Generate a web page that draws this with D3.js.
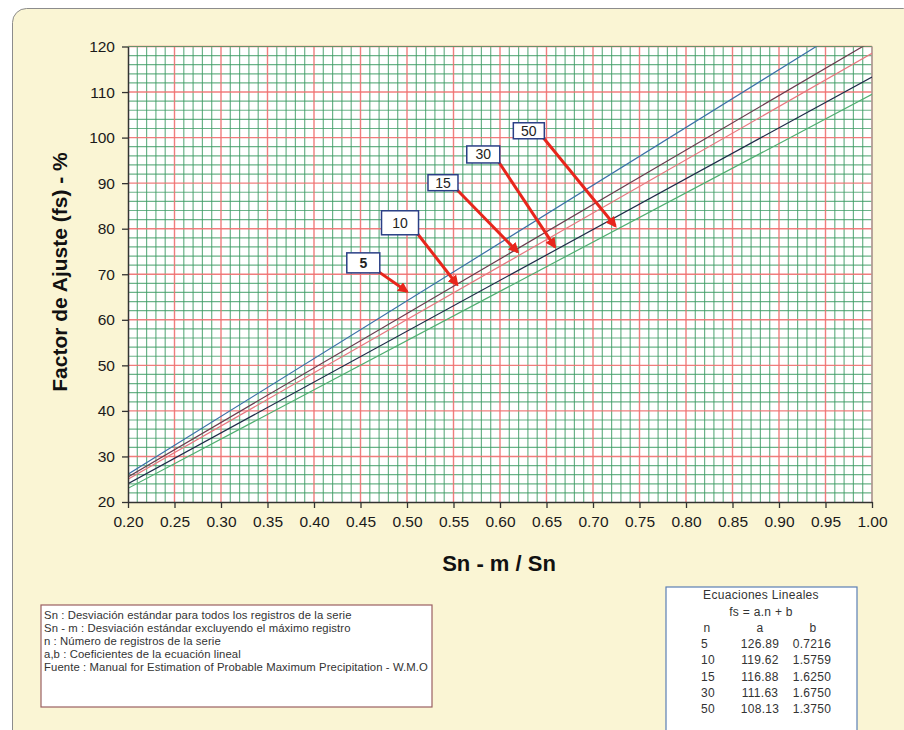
<!DOCTYPE html>
<html>
<head>
<meta charset="utf-8">
<script src="https://cdn.jsdelivr.net/npm/d3@7/dist/d3.min.js"></script>
<style>
  html, body { margin: 0; padding: 0; background: #ffffff; }
  svg { display: block; }
</style>
</head>
<body>
<svg id="chart" width="904" height="730"></svg>
<script>
// ---- Data ----
const seriesN = [5, 10, 15, 30, 50];
const coefA = [126.89, 119.62, 116.88, 111.63, 108.13];
const coefB = [0.7216, 1.5759, 1.6250, 1.6750, 1.3750];
const seriesColors = ["#3b6fa8", "#6b3b4e", "#e8767e", "#1e2a48", "#4fae70"];
const xTicks = [0.20, 0.25, 0.30, 0.35, 0.40, 0.45, 0.50, 0.55, 0.60, 0.65, 0.70, 0.75, 0.80, 0.85, 0.90, 0.95, 1.00];
const yTicks = [20, 30, 40, 50, 60, 70, 80, 90, 100, 110, 120];
// annotation labels: box centre and arrow tip in data units
const annLabels = ["5", "10", "15", "30", "50"];
const annBoxX = [0.453, 0.4925, 0.5387, 0.582, 0.631];
const annBoxY = [72.5, 81.3, 90.1, 96.3, 101.5];
const annTipX = [0.500, 0.554, 0.619, 0.659, 0.724];
const annTipY = [66.2, 67.7, 74.9, 76.0, 80.6];
const notes = [
  "Sn : Desviación estándar para todos los registros de la serie",
  "Sn - m : Desviación estándar excluyendo el máximo registro",
  "n : Número de registros de la serie",
  "a,b : Coeficientes de la ecuación lineal",
  "Fuente : Manual for Estimation of Probable Maximum Precipitation - W.M.O"
];

const svg = d3.select("#chart");
const font = "Arial, 'Liberation Sans', sans-serif";

// panel background
svg.append("rect").attr("x", 12.5).attr("y", 8.5).attr("width", 905).attr("height", 740)
  .attr("rx", 14).attr("fill", "#faf5d4").attr("stroke", "#8c8c8c").attr("stroke-width", 1);

const L = 128, R = 872, T = 46.5, B = 502;
const x = d3.scaleLinear().domain([0.2, 1.0]).range([L, R]);
const y = d3.scaleLinear().domain([20, 120]).range([B, T]);

const plot = svg.append("g");
plot.append("rect").attr("x", L).attr("y", T).attr("width", R - L).attr("height", B - T).attr("fill", "#ffffff");

// grid
const minorX = d3.range(0, 81).map(i => 0.2 + i * 0.01);
const minorY = d3.range(0, 51).map(i => 20 + i * 2);
const green = "#3a9a62", red = "#f07070";
plot.append("g").selectAll("line").data(minorX.filter((d, i) => i % 5 !== 0)).join("line")
  .attr("x1", d => x(d)).attr("x2", d => x(d)).attr("y1", T).attr("y2", B)
  .attr("stroke", green).attr("stroke-width", 1.2).attr("opacity", 0.75);
plot.append("g").selectAll("line").data(minorY.filter((d, i) => i % 5 !== 0)).join("line")
  .attr("y1", d => y(d)).attr("y2", d => y(d)).attr("x1", L).attr("x2", R)
  .attr("stroke", green).attr("stroke-width", 1.2).attr("opacity", 0.75);
plot.append("g").selectAll("line").data(xTicks.slice(1)).join("line")
  .attr("x1", d => x(d)).attr("x2", d => x(d)).attr("y1", T).attr("y2", B)
  .attr("stroke", red).attr("stroke-width", 1.4).attr("opacity", 0.9);
plot.append("g").selectAll("line").data(yTicks.slice(1)).join("line")
  .attr("y1", d => y(d)).attr("y2", d => y(d)).attr("x1", L).attr("x2", R)
  .attr("stroke", red).attr("stroke-width", 1.4).attr("opacity", 0.9);
// top and right edges
plot.append("line").attr("x1", L).attr("x2", R).attr("y1", T).attr("y2", T).attr("stroke", green).attr("stroke-width", 1.2).attr("opacity", 0.75);
plot.append("line").attr("x1", R).attr("x2", R).attr("y1", T).attr("y2", B).attr("stroke", "#9aa8a0").attr("stroke-width", 1.3);

// series lines (clipped)
svg.append("clipPath").attr("id", "clip").append("rect").attr("x", L).attr("y", T).attr("width", R - L).attr("height", B - T);
const lineG = svg.append("g").attr("clip-path", "url(#clip)");
seriesN.forEach((n, i) => {
  const pts = [0.2, 1.0].map(v => [v, coefA[i] * v + coefB[i]]);
  lineG.append("path").datum(pts)
    .attr("d", d3.line().x(d => x(d[0])).y(d => y(d[1])))
    .attr("fill", "none").attr("stroke", seriesColors[i]).attr("stroke-width", 1.2);
});

// axes
const xAxis = svg.append("g").attr("transform", `translate(0,${B})`)
  .call(d3.axisBottom(x).tickValues(xTicks).tickFormat(d3.format(".2f")).tickSize(6).tickSizeOuter(0));
const yAxis = svg.append("g").attr("transform", `translate(${L},0)`)
  .call(d3.axisLeft(y).tickValues(yTicks).tickFormat(d3.format("d")).tickSize(6).tickSizeOuter(0));
[xAxis, yAxis].forEach(a => {
  a.selectAll(".domain").attr("stroke", "#333").attr("stroke-width", 1.5);
  a.selectAll(".tick line").attr("stroke", "#333").attr("stroke-width", 1.3);
  a.selectAll("text").attr("font-family", font).attr("font-size", 15.5).attr("fill", "#1a1a1a");
});
xAxis.selectAll("text").attr("dy", "1.05em").attr("y", 9);
yAxis.selectAll("text").attr("x", -13);

// axis titles
svg.append("text").attr("x", 499).attr("y", 571).attr("text-anchor", "middle")
  .attr("font-family", font).attr("font-weight", "bold").attr("font-size", 22).attr("fill", "#111")
  .text("Sn - m / Sn");
svg.append("text").attr("transform", "translate(67,272) rotate(-90)").attr("text-anchor", "middle")
  .attr("font-family", font).attr("font-weight", "bold").attr("font-size", 21).attr("fill", "#111")
  .text("Factor de Ajuste (fs) - %");

// annotations
const defs = svg.append("defs");
defs.append("marker").attr("id", "arr").attr("viewBox", "0 0 10 10").attr("refX", 8).attr("refY", 5)
  .attr("markerWidth", 3.6).attr("markerHeight", 3.6).attr("orient", "auto")
  .append("path").attr("d", "M0,0 L10,5 L0,10 z").attr("fill", "#e8261c");
const annW = [33, 37, 30, 33, 31], annH = [20, 24, 16, 17, 16];
annLabels.forEach((lab, i) => {
  const cx = x(annBoxX[i]), cy = y(annBoxY[i]);
  const w = annW[i], h = annH[i];
  svg.append("line").attr("x1", cx + w / 2 - 1).attr("y1", cy + h / 2 - 1)
    .attr("x2", x(annTipX[i])).attr("y2", y(annTipY[i]))
    .attr("stroke", "#e8261c").attr("stroke-width", 3).attr("marker-end", "url(#arr)");
  svg.append("rect").attr("x", cx - w / 2).attr("y", cy - h / 2).attr("width", w).attr("height", h)
    .attr("fill", "#ffffff").attr("stroke", "#2a3f86").attr("stroke-width", 1.5);
  svg.append("text").attr("x", cx).attr("y", cy + 5).attr("text-anchor", "middle")
    .attr("font-family", font).attr("font-size", 14).attr("font-weight", i === 0 ? "bold" : "normal")
    .attr("fill", "#222").text(lab);
});

// notes box
svg.append("rect").attr("x", 41).attr("y", 605).attr("width", 391).attr("height", 102)
  .attr("fill", "#ffffff").attr("stroke", "#9a5f62").attr("stroke-width", 1.2);
svg.append("g").selectAll("text").data(notes).join("text")
  .attr("x", 44).attr("y", (d, i) => 619 + i * 13)
  .attr("font-family", font).attr("font-size", 11.3).attr("letter-spacing", 0.1).attr("fill", "#333")
  .text(d => d);

// equations box
svg.append("rect").attr("x", 666).attr("y", 587).attr("width", 191).attr("height", 150)
  .attr("fill", "#ffffff").attr("stroke", "#5b7fb4").attr("stroke-width", 1.2);
const eq = svg.append("g").attr("font-family", font).attr("font-size", 12).attr("letter-spacing", 0.3).attr("fill", "#333");
eq.append("text").attr("x", 761).attr("y", 599).attr("text-anchor", "middle").text("Ecuaciones Lineales");
eq.append("text").attr("x", 761).attr("y", 616).attr("text-anchor", "middle").text("fs = a.n + b");
eq.append("text").attr("x", 707).attr("y", 632).attr("text-anchor", "middle").text("n");
eq.append("text").attr("x", 760).attr("y", 632).attr("text-anchor", "middle").text("a");
eq.append("text").attr("x", 813).attr("y", 632).attr("text-anchor", "middle").text("b");
seriesN.forEach((n, i) => {
  const yy = 648 + i * 16.3;
  eq.append("text").attr("x", 701).attr("y", yy).text(n);
  eq.append("text").attr("x", 760).attr("y", yy).attr("text-anchor", "middle").text(coefA[i].toFixed(2));
  eq.append("text").attr("x", 812).attr("y", yy).attr("text-anchor", "middle").text(coefB[i].toFixed(4));
});
</script>
</body>
</html>
